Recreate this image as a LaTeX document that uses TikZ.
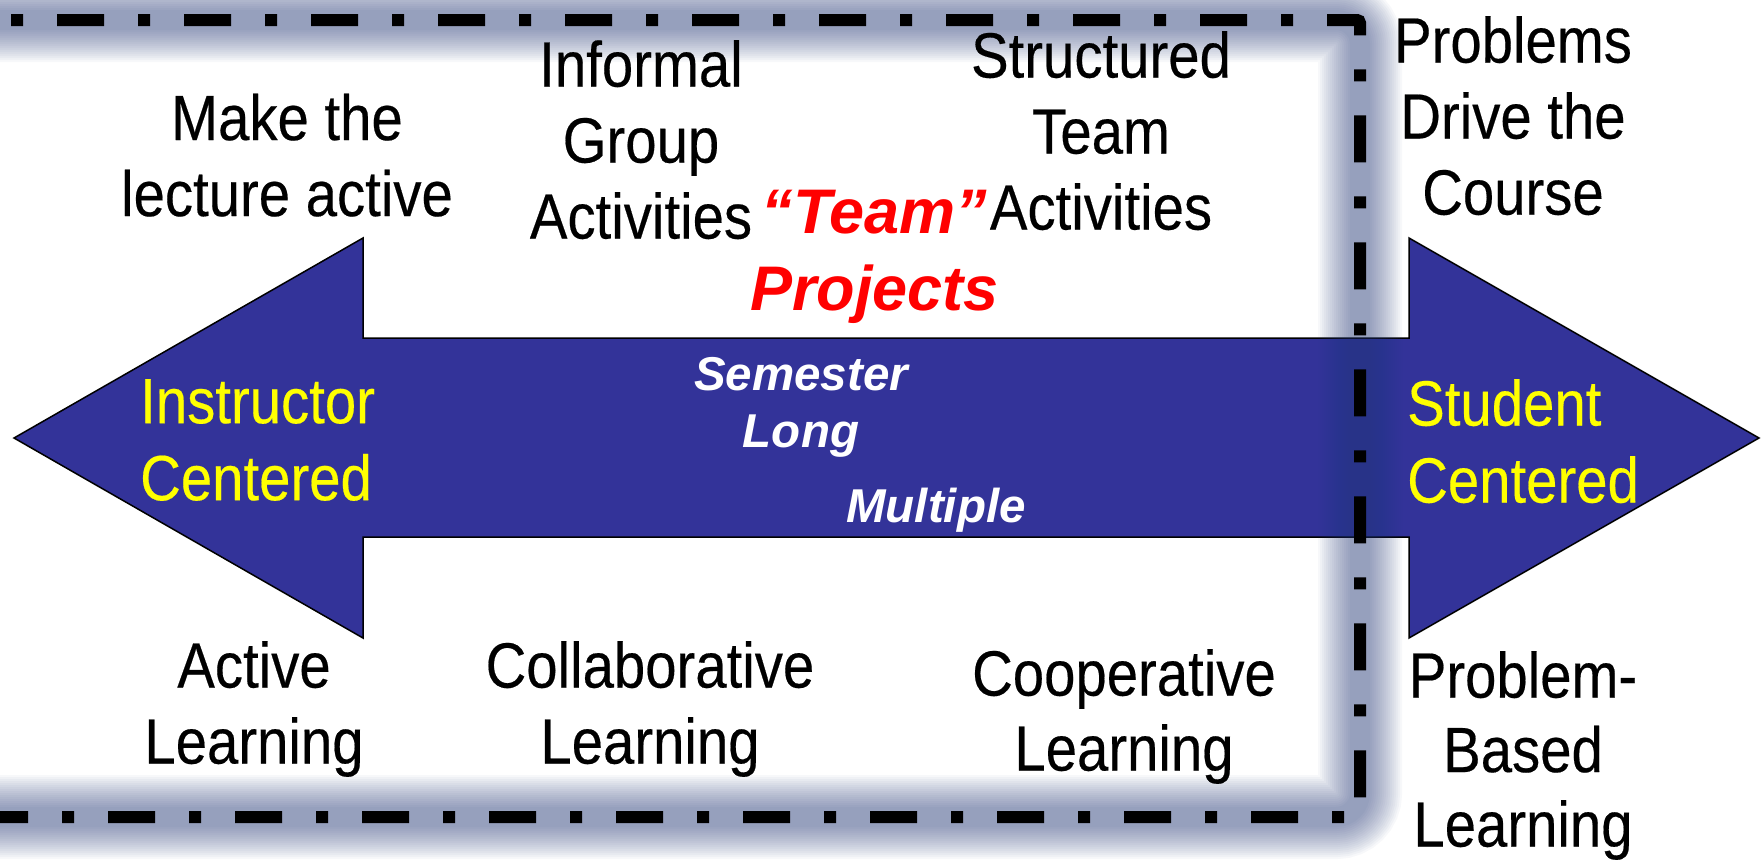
\documentclass[tikz,border=0pt]{standalone}
\usepackage{fontspec}
\setmainfont{Liberation Sans}
\newfontfamily\narrowsans[FakeStretch=0.88,FakeBold=0.3]{Liberation Sans}
\begin{document}
\definecolor{arrowblue}{RGB}{51,51,153}
\definecolor{haze}{RGB}{40,60,125}
\definecolor{labelyellow}{RGB}{255,255,0}
\definecolor{projred}{RGB}{255,0,0}
\begin{tikzpicture}[x=1pt,y=-1pt,
  plain/.style={inner sep=0pt, align=center, text=black,
    font=\narrowsans\fontsize{64}{76}\selectfont},
  pole/.style={inner sep=0pt, align=left, text=labelyellow,
    font=\narrowsans\fontsize{64}{77}\selectfont},
  emph/.style={inner sep=0pt, align=center, text=projred,
    font=\bfseries\itshape\fontsize{63}{77}\selectfont},
  note/.style={inner sep=0pt, align=center, text=white,
    font=\bfseries\itshape\fontsize{47.5}{57}\selectfont},
  framehaze/.style={haze, opacity=0.036, rounded corners=24},
  frameline/.style={black, line width=12pt,
    dash pattern=on 12pt off 34pt on 47pt off 34pt,
    rounded corners=3}
]
\useasboundingbox (0,0) rectangle (1762,860);
\clip (0,0) rectangle (1762,860);
\fill[white] (0,0) rectangle (1762,860);

% double-headed arrow: instructor centered <-> student centered
\coordinate (tipL) at (14,438);
\coordinate (tipR) at (1759,438);
\filldraw[fill=arrowblue, draw=black, line width=1.5pt, line join=miter]
  (tipL) -- (363,238) -- (363,338) -- (1409,338) -- (1409,238)
  -- (tipR) -- (1409,638) -- (1409,537) -- (363,537) -- (363,638) -- cycle;

% frame around the instructor-side activities, with a soft shadow
\coordinate (fTL) at (-15,20);
\coordinate (fStart) at (11,20);
\coordinate (fTR) at (1360,20);
\coordinate (fBR) at (1360,817);
\coordinate (fBL) at (-15,817);
\foreach \w in {84,80,...,20}
  \draw[framehaze, line width=\w pt] (fTL) -- (fTR) -- (fBR) -- (fBL);
\draw[frameline] (fStart) -- (fTR) -- (fBR) -- (fBL);

% top row
\node[plain, anchor=north] (lecture) at (287,93.5) {Make the\\lecture active};
\node[plain, anchor=north] (informal) at (641,40) {Informal\\Group\\Activities};
\node[plain, anchor=north] (structured) at (1101,31) {Structured\\Team\\Activities};
\node[plain, anchor=north] (problems) at (1513,16) {Problems\\Drive the\\Course};

% projects
\node[emph, anchor=north] (team) at (874.5,190) {“Team”\\Projects};
\node[note, anchor=north] (semester) at (801,357) {Semester\\Long};
\node[note, anchor=base] (multiple) at (936,522) {Multiple};

% the two poles
\node[pole, anchor=north west] (instructor) at (140,379) {Instructor\\Centered};
\node[pole, anchor=north west] (student) at (1407,379) {Student\\Centered};

% bottom row
\node[plain, anchor=north] (active) at (254,641) {Active\\Learning};
\node[plain, anchor=north] (collab) at (650,641) {Collaborative\\Learning};
\node[plain, anchor=north, font=\narrowsans\fontsize{64}{75}\selectfont]
  (coop) at (1124,649) {Cooperative\\Learning};
\node[plain, anchor=north, font=\narrowsans\fontsize{64}{74.5}\selectfont]
  (pbl) at (1523,651) {Problem-\\Based\\Learning};
\end{tikzpicture}
\end{document}
